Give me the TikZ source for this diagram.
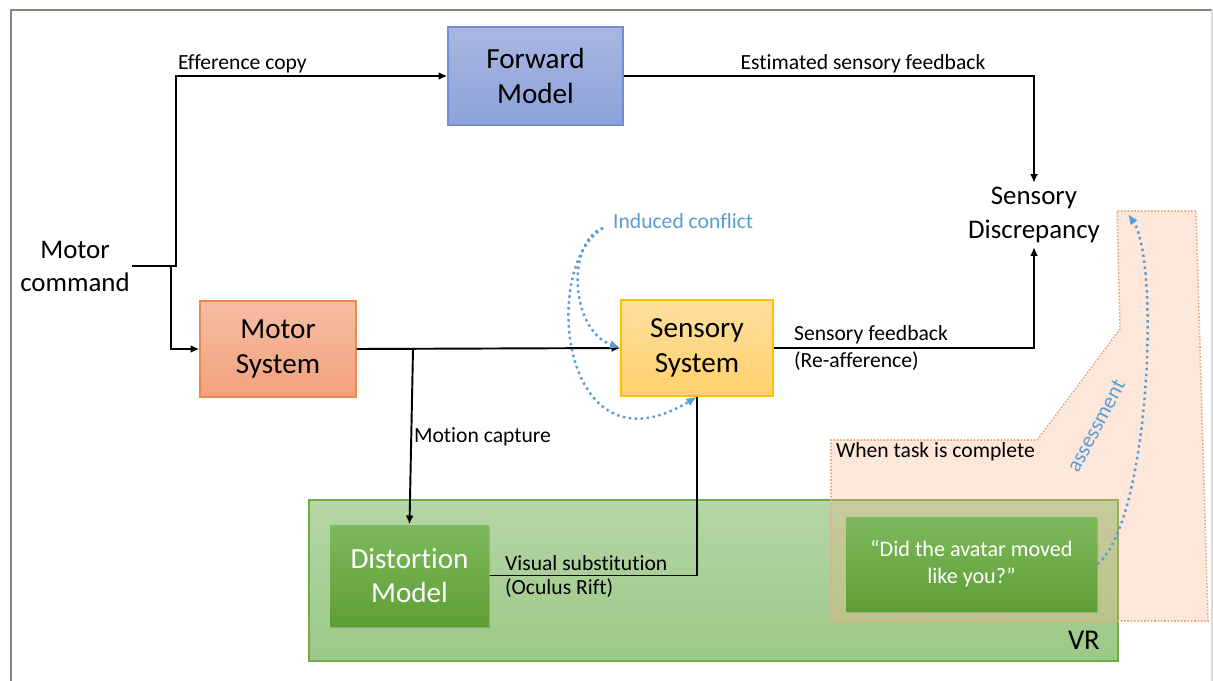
\documentclass[tikz,border=0pt]{standalone}
\usepackage{fontspec}
\setmainfont{Carlito}[Ligatures=NoCommon]
\usetikzlibrary{arrows.meta,shadows}
\definecolor{frameg}{HTML}{8A8378}
\definecolor{fmtop}{HTML}{A9B7E1}
\definecolor{fmbot}{HTML}{8DA2D9}
\definecolor{fmdraw}{HTML}{6F8FD0}
\definecolor{mstop}{HTML}{F5BDA3}
\definecolor{msbot}{HTML}{F4A17C}
\definecolor{msdraw}{HTML}{F0884C}
\definecolor{sstop}{HTML}{FFE09E}
\definecolor{ssbot}{HTML}{FFD06C}
\definecolor{ssdraw}{HTML}{FFC000}
\definecolor{gbtop}{HTML}{7DB95D}
\definecolor{gbbot}{HTML}{5E9F34}
\definecolor{vrtop}{HTML}{B5D6A7}
\definecolor{vrbot}{HTML}{9CC886}
\definecolor{vrdraw}{HTML}{70AD47}
\definecolor{peach}{HTML}{F4B183}
\definecolor{peachdraw}{HTML}{E8A882}
\definecolor{bluedot}{HTML}{5B9BD5}
\tikzset{
  bigtxt/.style={font=\fontsize{16.6}{19.8}\selectfont},
  lbl/.style={font=\fontsize{12.3}{15.3}\selectfont, inner sep=1pt},
  box/.style={bigtxt, align=center, shading=axis, shading angle=0, line width=0.8pt},
  greenbox/.style={box, top color=gbtop, bottom color=gbbot, text=white, draw=none,
     drop shadow={opacity=0.45, shadow xshift=0.6pt, shadow yshift=-1.4pt}},
  conn/.style={line width=1.1pt, -{Latex[length=5pt,width=4.5pt]}},
  plain/.style={line width=1.1pt},
  dotarrow/.style={bluedot, line width=1.4pt, dotted, -{Latex[length=6pt,width=5pt]}},
}
\begin{document}
\begin{tikzpicture}[x=0.02cm,y=-0.02cm]
\useasboundingbox (0,0) rectangle (1213,680);
% frame
\draw[frameg, line width=1.6pt] (11,690) -- (11,10) -- (1212,10);
\draw[frameg!30, line width=0.6pt] (1212,10) -- (1212,690);

% VR area
\draw[vrdraw, line width=0.8pt, top color=vrtop, bottom color=vrbot, shading angle=0] (309,500) rectangle (1118,661);
\node[font=\fontsize{16.3}{19}\selectfont, anchor=east] (vr) at (1106,640) {VR};

% peach area
\draw[peachdraw, densely dotted, line width=0.9pt, fill=peach, fill opacity=0.3]
  (831,621) -- (831,440) -- (1037,440) -- (1120,329) -- (1117,211) -- (1196,211) -- (1208,621) -- cycle;
\node[lbl, anchor=west] (wtc) at (834,452) {When task is complete};
\node[lbl, text=bluedot, rotate=62] (assess) at (1096,426) {assessment};

% main boxes
\node[box, top color=fmtop, bottom color=fmbot, draw=fmdraw, minimum width=3.5cm, minimum height=1.96cm] (fm) at (535.5,76) {Forward\\Model};
\node[box, top color=mstop, bottom color=msbot, draw=msdraw, minimum width=3.12cm, minimum height=1.92cm] (ms) at (278,349) {Motor\\System};
\node[box, top color=sstop, bottom color=ssbot, draw=ssdraw, minimum width=3.04cm, minimum height=1.92cm] (ss) at (697,348) {Sensory\\System};
\node[greenbox, minimum width=3.18cm, minimum height=2.02cm] (dm) at (409.5,575.5) {Distortion\\Model};
\node[greenbox, font=\fontsize{12.6}{15.3}\selectfont, minimum width=5.02cm, minimum height=1.88cm] (task) at (971.5,564) {“Did the avatar moved\\like you?”};

% free text nodes
\node[align=center, font=\fontsize{15.3}{18.8}\selectfont, inner sep=1pt] (mc) at (75,266) {Motor\\command};
\node[align=center, font=\fontsize{15.3}{19.8}\selectfont, inner sep=2pt] (sd) at (1034,215) {Sensory\\Discrepancy};

% junctions
\coordinate (j1) at (176,266);
\coordinate (j2) at (171,266);
\coordinate (j3) at (413,349);

% connectors
\draw[conn] (mc.east) -- (j1) |- (fm.west);
\draw[conn] (j2) |- (ms.west);
\draw[conn] (fm.east) -| (sd.north);
\draw[conn] (ss.east) -| (sd.south);
\draw[conn] (ms.east) -- (ss.west);
\draw[conn] (j3) -- (dm.north);
\draw[plain] (dm.east) -| (ss.south);

% labels
\node[lbl, anchor=south west] (lef) at (176,75) {Efference copy};
\node[lbl, anchor=south] (lesf) at (863,75) {Estimated sensory feedback};
\node[lbl, anchor=south west] (lsf) at (792,346) {Sensory feedback};
\node[lbl, anchor=north west] (lra) at (792,350) {(Re-afference)};
\node[lbl, anchor=west] (lmc) at (412,437) {Motion capture};
\node[lbl, anchor=south west] (lvs) at (503,573) {Visual substitution};
\node[lbl, anchor=north west] (lor) at (503,577) {(Oculus Rift)};
\node[lbl, anchor=west, text=bluedot] (ic) at (611,221) {Induced conflict};

% dotted curves
\coordinate (icstart) at (603,228);
\coordinate (asend) at (1128,214);
\draw[dotarrow] (icstart) .. controls (566,242) and (570,330) .. (ss.west);
\draw[dotarrow] (icstart) .. controls (540,265) and (560,480) .. (ss.south);
\draw[dotarrow] (task.east) .. controls (1150,520) and (1160,260) .. (asend);
\end{tikzpicture}
\end{document}
